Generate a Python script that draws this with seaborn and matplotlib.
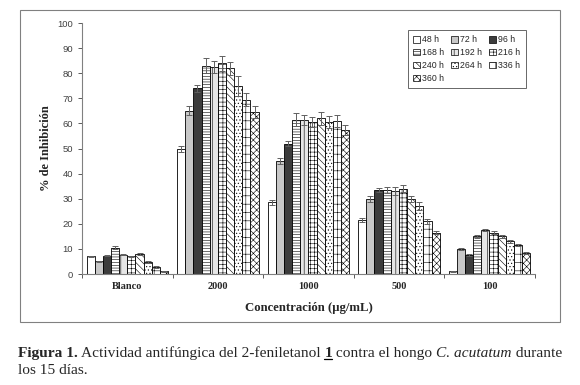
import numpy as np
import pandas as pd
import seaborn as sns
import matplotlib.pyplot as plt
from matplotlib.patches import Patch, Rectangle

# DATA
concentrations = ["Blanco", "2000", "1000", "500", "100"]
hours = ["48 h", "72 h", "96 h", "168 h", "192 h", "216 h", "240 h", "264 h", "336 h", "360 h"]
inhibition = {
    "Blanco": [7.0, 5.0, 7.3, 10.5, 7.7, 7.0, 8.0, 4.8, 2.8, 1.0],
    "2000": [50.0, 65.0, 74.0, 83.0, 82.5, 84.0, 82.0, 75.0, 69.5, 64.5],
    "1000": [28.5, 45.0, 52.0, 61.5, 61.5, 60.5, 62.0, 60.5, 61.0, 57.5],
    "500": [21.5, 30.0, 33.5, 33.5, 33.0, 34.0, 30.0, 27.0, 21.0, 16.5],
    "100": [1.0, 10.0, 7.5, 15.0, 17.5, 16.5, 15.0, 13.0, 11.5, 8.5],
}
errors = {
    "Blanco": [0.3, 0.3, 0.3, 0.5, 0.3, 0.3, 0.4, 0.3, 0.3, 0.2],
    "2000": [1.2, 1.8, 1.5, 3.0, 2.5, 3.0, 2.5, 4.0, 2.5, 2.5],
    "1000": [1.0, 1.2, 1.0, 2.5, 2.0, 2.0, 2.5, 2.5, 2.5, 2.0],
    "500": [0.7, 1.2, 0.8, 1.2, 1.5, 1.5, 1.2, 1.5, 1.0, 0.7],
    "100": [0.2, 0.5, 0.3, 0.5, 0.5, 0.5, 0.5, 0.5, 0.5, 0.4],
}

# BAR STYLES (fill, hatch)
styles = [
    ("white", None),
    ("#c8c8c8", None),
    ("#3c3c3c", None),
    ("white", "------"),
    ("#e6e6e6", "||"),
    ("white", "++++"),
    ("white", "\\\\\\\\\\"),
    ("white", "....."),
    ("white", "++"),
    ("white", "xxxxx"),
]

rows = []
for c in concentrations:
    for h, v in zip(hours, inhibition[c]):
        rows.append({"conc": c, "hour": h, "value": v})
df = pd.DataFrame(rows)

# PLOT SETTING
sns.set_style("ticks")
plt.rcParams["hatch.linewidth"] = 0.4
sans = "Liberation Sans"
serif = "Liberation Serif"

fig = plt.figure(figsize=(5.8, 3.85), dpi=100)
ax = fig.add_axes([0.1414, 0.2883, 0.7806, 0.6517])

sns.barplot(data=df, x="conc", y="value", hue="hour", order=concentrations, hue_order=hours,
            errorbar=None, width=0.9, gap=0, legend=False, ax=ax)

bar_containers = list(ax.containers)
for i, cont in enumerate(bar_containers):
    fc, hatch = styles[i]
    xs, ys = [], []
    for p in cont:
        p.set_facecolor(fc)
        p.set_edgecolor("black")
        p.set_linewidth(0.6)
        if hatch:
            p.set_hatch(hatch)
        xs.append(p.get_x() + p.get_width() / 2)
        ys.append(p.get_height())
    err = [errors[c][i] for c in concentrations]
    ax.errorbar(xs, ys, yerr=err, fmt="none", ecolor="#606060", elinewidth=0.7, capsize=2, capthick=0.7)

# AXES
ax.set_ylim(0, 100)
ax.set_xlim(-0.5, 4.5)
ax.set_yticks(range(0, 101, 10))
ax.tick_params(axis="y", labelsize=6.8, colors="#404040", length=3, width=0.6)
for t in ax.get_yticklabels():
    t.set_family(sans)
ax.set_xticks(range(5))
ax.set_xticklabels(concentrations, family=serif, fontweight="bold", fontsize=7.5)
ax.tick_params(axis="x", length=0, pad=6)
ax.set_xticks(np.arange(-0.5, 5, 1), minor=True)
ax.tick_params(axis="x", which="minor", length=3, width=0.6, color="#404040")
for s in ["top", "right"]:
    ax.spines[s].set_visible(False)
for s in ["left", "bottom"]:
    ax.spines[s].set_color("#808080")
    ax.spines[s].set_linewidth(0.8)

ax.set_xlabel("Concentración (µg/mL)", family=serif, fontweight="bold", fontsize=9.2, labelpad=8)
ax.set_ylabel("% de Inhibición", family=serif, fontweight="bold", fontsize=9, labelpad=4)

# LEGEND
handles = [Patch(facecolor=fc, edgecolor="black", hatch=h, linewidth=0.5) for fc, h in styles]
order = [0, 3, 6, 9, 1, 4, 7, 2, 5, 8]
leg = ax.legend([handles[k] for k in order], [hours[k] for k in order], ncol=3,
                loc="upper right", bbox_to_anchor=(0.99, 0.99), prop={"family": sans, "size": 6.3},
                frameon=True, fancybox=False, edgecolor="#404040", handlelength=0.8, handleheight=0.8,
                handletextpad=0.25, columnspacing=0.8, labelspacing=0.45, borderpad=0.6)
leg.get_frame().set_linewidth(0.7)

# OUTER FRAME
fig.patches.append(Rectangle((20 / 580, 1 - 322 / 385), 540 / 580, 312 / 385, transform=fig.transFigure,
                             fill=False, edgecolor="#808080", linewidth=0.8))

# CAPTION
renderer = fig.canvas.get_renderer()
line1 = [
    ("Figura 1.", {"fontweight": "bold"}),
    (" Actividad antifúngica del 2-feniletanol ", {}),
    ("1", {"fontweight": "bold"}),
    (" contra el hongo ", {}),
    ("C. acutatum", {"style": "italic"}),
    (" durante", {}),
]
x = 18
for txt, kw in line1:
    t = fig.text(x / 580, 1 - 357 / 385, txt, family=serif, fontsize=11.1, va="baseline", **kw)
    bb = t.get_window_extent(renderer=renderer)
    if txt == "1":
        fig.add_artist(plt.Line2D([bb.x0 / 580, bb.x1 / 580], [1 - 359 / 385] * 2,
                                  transform=fig.transFigure, color="black", linewidth=0.9))
    x += bb.width
fig.text(18 / 580, 1 - 374 / 385, "los 15 días.", family=serif, fontsize=11.1, va="baseline")

plt.savefig("out.png", dpi=100)
plt.close()
